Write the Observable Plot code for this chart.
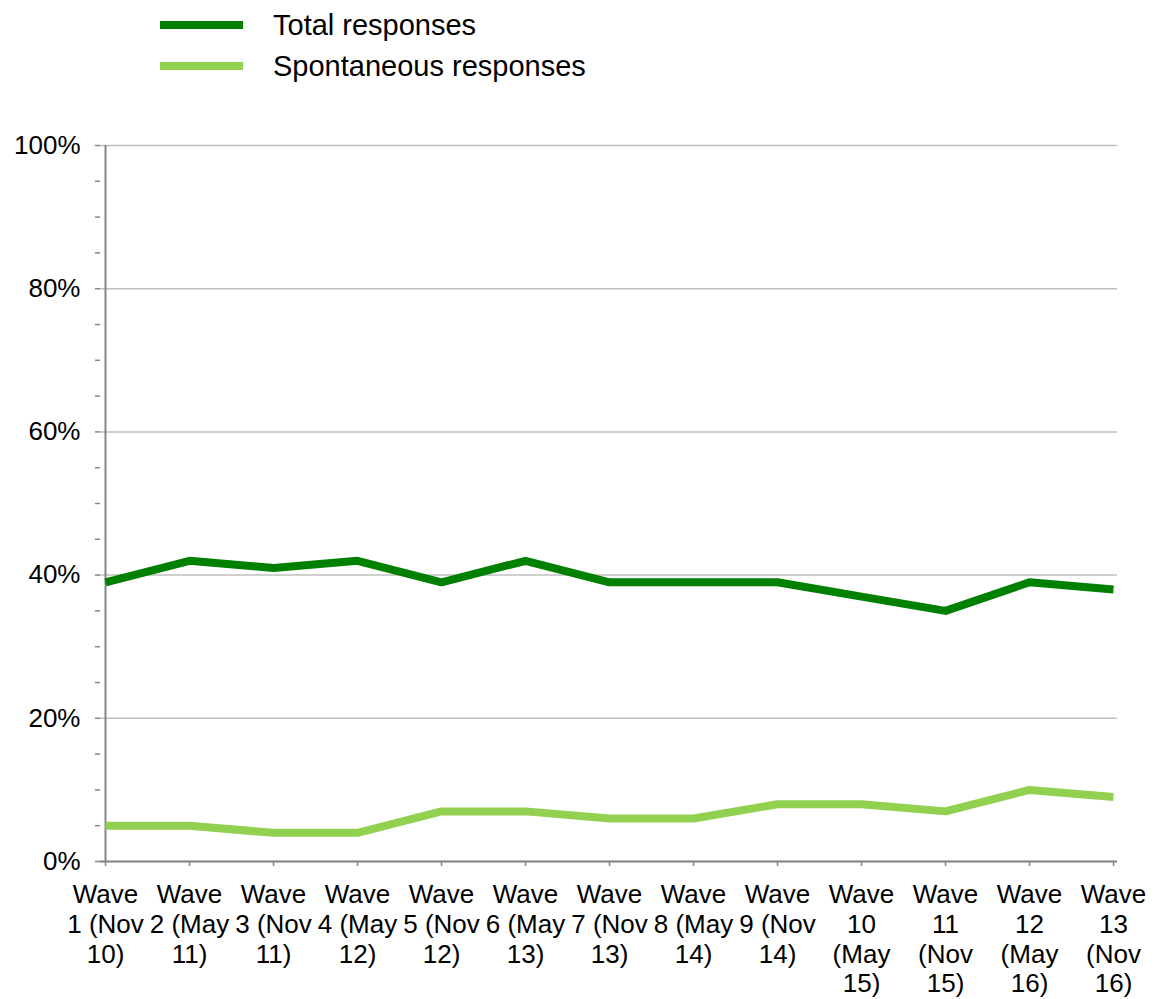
<!DOCTYPE html>
<html>
<head>
<meta charset="utf-8">
<script src="https://cdn.jsdelivr.net/npm/d3@7"></script>
<script src="https://cdn.jsdelivr.net/npm/@observablehq/plot@0.6"></script>
<style>
  html, body { margin: 0; padding: 0; background: #fff; }
  body { font-family: "Liberation Sans", Arial, sans-serif; width: 1159px; }
  #legend { position: relative; height: 100px; }
  .item { position: absolute; left: 160px; height: 30px; display: flex; align-items: center; }
  .swatch { width: 83px; height: 8px; margin-right: 30px; }
  .label { font-size: 29px; color: #000; line-height: 30px; }
</style>
</head>
<body>
<div id="legend"></div>
<div id="chart"></div>
<script>
const waves = ["Wave 1","Wave 2","Wave 3","Wave 4","Wave 5","Wave 6","Wave 7","Wave 8","Wave 9","Wave 10","Wave 11","Wave 12","Wave 13"];
const tickLabels = ["Wave\n1 (Nov\n10)","Wave\n2 (May\n11)","Wave\n3 (Nov\n11)","Wave\n4 (May\n12)","Wave\n5 (Nov\n12)","Wave\n6 (May\n13)","Wave\n7 (Nov\n13)","Wave\n8 (May\n14)","Wave\n9 (Nov\n14)","Wave\n10\n(May\n15)","Wave\n11\n(Nov\n15)","Wave\n12\n(May\n16)","Wave\n13\n(Nov\n16)"];
const totalResponses = [0.39,0.42,0.41,0.42,0.39,0.42,0.39,0.39,0.39,0.37,0.35,0.39,0.38];
const spontaneousResponses = [0.05,0.05,0.04,0.04,0.07,0.07,0.06,0.06,0.08,0.08,0.07,0.10,0.09];
const seriesNames = ["Total responses","Spontaneous responses"];
const seriesColors = ["#008000","#92D050"];
const yMajorTicks = [0,0.2,0.4,0.6,0.8,1];
const yMinorTicks = [0.05,0.1,0.15,0.25,0.3,0.35,0.45,0.5,0.55,0.65,0.7,0.75,0.85,0.9,0.95];

const rows = [];
waves.forEach((w,i) => {
  rows.push({wave: w, value: totalResponses[i], series: seriesNames[0]});
  rows.push({wave: w, value: spontaneousResponses[i], series: seriesNames[1]});
});

// legend
const legend = document.getElementById("legend");
seriesNames.forEach((name, i) => {
  const item = document.createElement("div");
  item.className = "item";
  item.style.top = (10 + i * 41) + "px";
  const sw = document.createElement("div");
  sw.className = "swatch";
  sw.style.background = seriesColors[i];
  const lb = document.createElement("span");
  lb.className = "label";
  lb.textContent = name;
  item.appendChild(sw); item.appendChild(lb);
  legend.appendChild(item);
});

const axisGray = "#868686";
const chart = Plot.plot({
  width: 1159,
  height: 899,
  marginTop: 45,
  marginBottom: 138,
  marginLeft: 100,
  marginRight: 42,
  style: {fontFamily: "'Liberation Sans', Arial, sans-serif", fontSize: "26px", color: "#000", background: "#fff", overflow: "visible"},
  x: {type: "point", domain: waves, padding: 0},
  y: {domain: [0, 1]},
  color: {domain: seriesNames, range: seriesColors},
  marks: [
    Plot.gridY({ticks: yMajorTicks, stroke: "#bfbfbf", strokeOpacity: 1, strokeWidth: 1.5}),
    Plot.axisY({ticks: yMinorTicks, tickSize: 5, stroke: axisGray, strokeWidth: 1.5, tickFormat: () => "", label: null}),
    Plot.axisY({ticks: yMajorTicks, tickSize: 5, tickPadding: 15, stroke: axisGray, strokeWidth: 1.5, fill: "#000", fontSize: 26, tickFormat: d => Math.round(d * 100) + "%", label: null}),
    Plot.axisX({tickSize: 5, tickPadding: 15, stroke: axisGray, strokeWidth: 1.5, fill: "#000", fontSize: 26, lineHeight: 1.15, tickFormat: (d) => tickLabels[waves.indexOf(d)], label: null}),
    Plot.ruleY([0], {stroke: axisGray, strokeWidth: 2}),
    Plot.ruleX([waves[0]], {stroke: axisGray, strokeWidth: 2}),
    Plot.line(rows, {x: "wave", y: "value", z: "series", stroke: "series", strokeWidth: 8, strokeLinecap: "butt", strokeLinejoin: "round"})
  ]
});
document.getElementById("chart").appendChild(chart);
</script>
</body>
</html>
